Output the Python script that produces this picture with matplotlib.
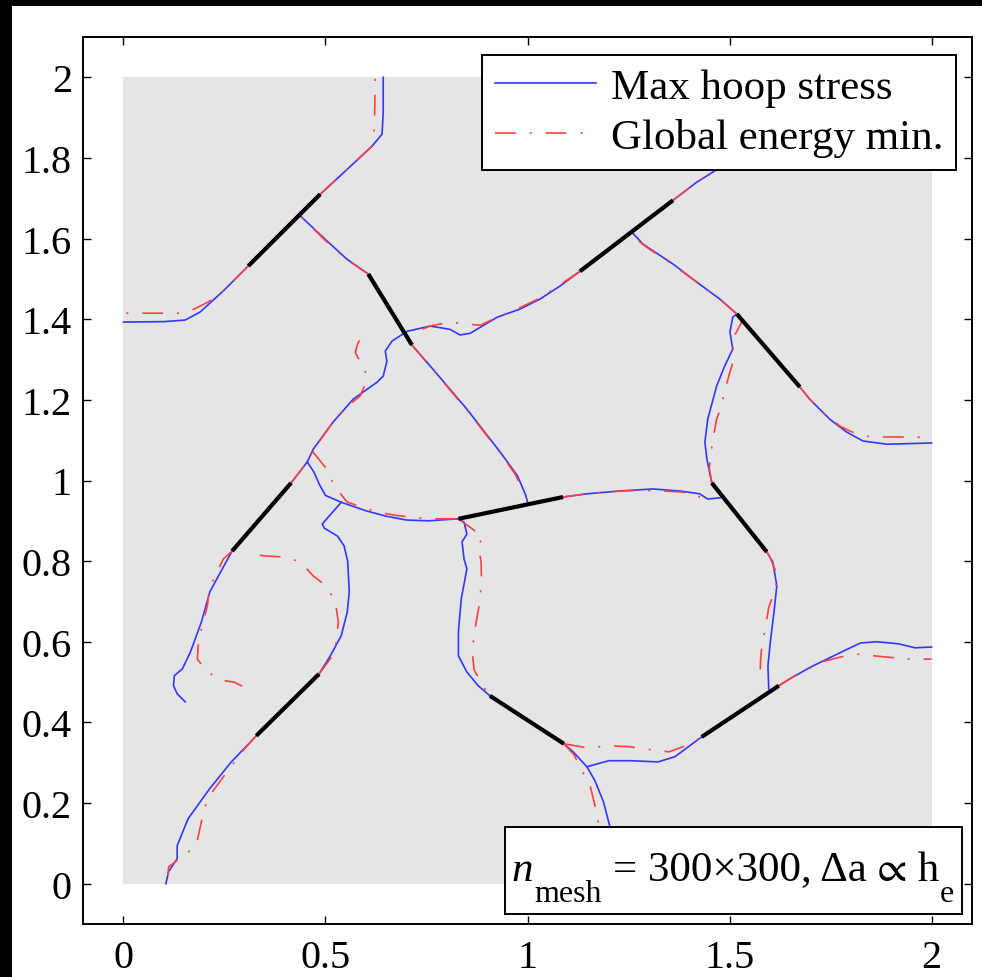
import numpy as np
import matplotlib
matplotlib.use("Agg")
import matplotlib.pyplot as plt
from matplotlib.patches import Rectangle
from matplotlib.ticker import FuncFormatter, MultipleLocator

plt.rcParams['font.family'] = 'serif'
plt.rcParams['font.serif'] = ['Liberation Serif', 'DejaVu Serif']
plt.rcParams['mathtext.fontset'] = 'stix'
plt.rcParams['lines.scale_dashes'] = False

# initial cracks (x0, y0, x1, y1)
init_x0 = [0.309, 0.606, 1.130, 1.518, 0.269, 0.829, 1.456, 0.329, 0.907, 1.431]
init_y0 = [1.532, 1.512, 1.519, 1.413, 0.825, 0.905, 0.994, 0.367, 0.466, 0.364]
init_x1 = [0.487, 0.714, 1.360, 1.674, 0.415, 1.088, 1.592, 0.484, 1.090, 1.622]
init_y1 = [1.710, 1.336, 1.695, 1.232, 0.994, 0.959, 0.823, 0.520, 0.347, 0.491]

# crack paths, max hoop stress criterion
hoop_paths = [
    [(0.309, 1.532), (0.247, 1.470), (0.19, 1.418), (0.153, 1.398), (0.10, 1.394), (0.0, 1.393)],
    [(0.487, 1.710), (0.554, 1.772), (0.615, 1.829), (0.640, 1.859), (0.643, 1.913), (0.643, 2.0)],
    [(0.606, 1.512), (0.553, 1.549), (0.504, 1.594), (0.438, 1.656)],
    [(0.714, 1.336), (0.766, 1.276), (0.850, 1.177), (0.932, 1.071), (0.975, 1.012), (0.995, 0.965), (1.001, 0.944)],
    [(1.130, 1.519), (1.080, 1.482), (1.031, 1.450), (0.981, 1.425), (0.925, 1.405), (0.858, 1.365),
     (0.833, 1.361), (0.808, 1.375), (0.759, 1.383), (0.702, 1.370), (0.665, 1.346), (0.648, 1.321),
     (0.652, 1.296), (0.643, 1.259), (0.628, 1.244), (0.569, 1.202), (0.519, 1.145), (0.470, 1.078),
     (0.455, 1.046), (0.415, 0.994)],
    [(0.455, 1.046), (0.472, 1.020), (0.485, 0.990), (0.500, 0.963), (0.539, 0.946), (0.600, 0.925),
     (0.648, 0.912), (0.700, 0.902), (0.754, 0.900), (0.829, 0.905)],
    [(0.484, 0.520), (0.512, 0.565), (0.539, 0.615), (0.554, 0.674), (0.559, 0.724), (0.555, 0.800),
     (0.546, 0.838), (0.530, 0.862), (0.497, 0.882), (0.492, 0.892), (0.539, 0.946)],
    [(0.269, 0.825), (0.235, 0.763), (0.214, 0.724), (0.193, 0.649), (0.166, 0.575), (0.146, 0.533),
     (0.126, 0.516), (0.124, 0.491), (0.133, 0.471), (0.153, 0.451)],
    [(0.329, 0.367), (0.315, 0.352), (0.267, 0.302), (0.213, 0.235), (0.160, 0.161), (0.133, 0.094),
     (0.133, 0.062), (0.112, 0.030), (0.105, 0.0)],
    [(0.829, 0.905), (0.843, 0.897), (0.850, 0.867), (0.838, 0.848), (0.843, 0.805), (0.850, 0.781),
     (0.836, 0.706), (0.829, 0.625), (0.829, 0.565), (0.850, 0.525), (0.878, 0.491), (0.907, 0.466)],
    [(1.090, 0.347), (1.113, 0.327), (1.147, 0.290), (1.167, 0.255), (1.188, 0.203), (1.204, 0.141),
     (1.220, 0.070), (1.230, 0.0)],
    [(1.147, 0.290), (1.201, 0.305), (1.256, 0.305), (1.323, 0.302), (1.365, 0.315), (1.431, 0.364)],
    [(1.622, 0.491), (1.649, 0.508), (1.702, 0.538), (1.782, 0.577), (1.824, 0.597), (1.864, 0.600),
     (1.918, 0.595), (1.959, 0.585), (2.0, 0.587)],
    [(1.592, 0.823), (1.607, 0.798), (1.617, 0.739), (1.610, 0.674), (1.601, 0.600), (1.595, 0.540),
     (1.597, 0.483)],
    [(1.456, 0.994), (1.444, 1.053), (1.439, 1.095), (1.446, 1.152), (1.468, 1.234), (1.488, 1.284),
     (1.508, 1.326), (1.501, 1.368), (1.508, 1.405), (1.518, 1.413)],
    [(1.674, 1.232), (1.698, 1.202), (1.748, 1.152), (1.790, 1.120), (1.830, 1.098), (1.889, 1.090),
     (2.0, 1.093)],
    [(1.518, 1.413), (1.476, 1.450), (1.419, 1.492), (1.360, 1.537), (1.286, 1.586), (1.258, 1.616)],
    [(1.360, 1.695), (1.419, 1.740), (1.483, 1.780), (1.560, 1.830), (1.650, 1.900)],
    [(1.088, 0.959), (1.147, 0.967), (1.229, 0.974), (1.310, 0.979), (1.377, 0.974), (1.426, 0.967),
     (1.446, 0.954), (1.476, 0.957)],
]

# crack paths, global energy minimisation
energy_paths = [
    [(0.309, 1.532), (0.247, 1.470), (0.21, 1.443), (0.175, 1.425), (0.136, 1.415), (0.0, 1.415)],
    [(0.487, 1.710), (0.554, 1.772), (0.615, 1.829), (0.620, 1.860), (0.622, 1.920), (0.623, 2.0)],
    [(0.606, 1.512), (0.550, 1.550), (0.500, 1.595), (0.438, 1.656)],
    [(0.714, 1.336), (0.770, 1.270), (0.850, 1.175), (0.935, 1.065), (0.970, 1.015), (0.990, 0.970)],
    [(1.130, 1.519), (1.080, 1.485), (1.030, 1.452), (0.980, 1.428), (0.925, 1.405), (0.883, 1.385),
     (0.850, 1.388), (0.808, 1.393), (0.759, 1.383), (0.722, 1.368)],
    [(0.415, 0.994), (0.455, 1.046), (0.471, 1.078), (0.519, 1.145), (0.553, 1.182), (0.586, 1.210),
     (0.600, 1.242), (0.598, 1.284), (0.580, 1.305), (0.574, 1.318), (0.580, 1.340), (0.591, 1.358)],
    [(0.468, 1.072), (0.507, 1.024), (0.519, 0.991), (0.553, 0.947), (0.590, 0.934), (0.628, 0.922),
     (0.677, 0.913), (0.754, 0.905), (0.829, 0.905)],
    [(0.484, 0.520), (0.510, 0.555), (0.524, 0.577), (0.532, 0.649), (0.524, 0.701), (0.500, 0.740),
     (0.470, 0.763), (0.438, 0.798), (0.400, 0.810), (0.349, 0.813), (0.335, 0.815)],
    [(0.269, 0.825), (0.247, 0.805), (0.220, 0.748), (0.210, 0.710), (0.208, 0.689), (0.193, 0.632),
     (0.185, 0.590), (0.183, 0.557), (0.208, 0.525), (0.240, 0.505), (0.274, 0.500), (0.294, 0.490)],
    [(0.329, 0.367), (0.300, 0.335), (0.262, 0.285), (0.235, 0.248), (0.213, 0.218), (0.200, 0.186),
     (0.190, 0.140), (0.180, 0.094), (0.146, 0.067), (0.112, 0.042), (0.110, 0.020)],
    [(0.829, 0.905), (0.870, 0.875), (0.890, 0.860), (0.878, 0.838), (0.885, 0.800), (0.886, 0.763),
     (0.883, 0.706), (0.875, 0.660), (0.870, 0.632), (0.863, 0.577), (0.868, 0.530), (0.890, 0.490),
     (0.907, 0.466)],
    [(1.090, 0.347), (1.115, 0.320), (1.135, 0.280), (1.155, 0.243), (1.167, 0.193), (1.174, 0.161),
     (1.180, 0.080), (1.190, 0.0)],
    [(1.090, 0.347), (1.147, 0.337), (1.201, 0.342), (1.250, 0.340), (1.300, 0.333), (1.350, 0.327),
     (1.400, 0.345), (1.431, 0.364)],
    [(1.622, 0.491), (1.660, 0.515), (1.700, 0.535), (1.728, 0.550), (1.778, 0.563), (1.824, 0.570),
     (1.858, 0.565), (1.911, 0.560), (1.950, 0.557), (2.0, 0.557)],
    [(1.592, 0.823), (1.600, 0.810), (1.620, 0.760), (1.610, 0.720), (1.597, 0.686), (1.587, 0.625),
     (1.580, 0.590), (1.577, 0.558), (1.575, 0.508)],
    [(1.456, 0.994), (1.450, 1.030), (1.455, 1.075), (1.459, 1.103), (1.468, 1.152), (1.480, 1.185),
     (1.490, 1.230), (1.510, 1.300), (1.508, 1.351), (1.530, 1.393), (1.535, 1.400)],
    [(1.674, 1.232), (1.700, 1.200), (1.740, 1.160), (1.773, 1.135), (1.797, 1.123), (1.830, 1.110),
     (1.871, 1.108), (1.921, 1.108), (2.0, 1.107)],
    [(1.518, 1.413), (1.476, 1.450), (1.419, 1.492), (1.360, 1.535), (1.300, 1.575), (1.270, 1.598),
     (1.258, 1.616)],
    [(1.360, 1.695), (1.419, 1.740), (1.483, 1.780), (1.560, 1.830), (1.650, 1.900)],
    [(1.088, 0.959), (1.147, 0.967), (1.200, 0.972), (1.260, 0.975), (1.310, 0.975), (1.377, 0.972),
     (1.400, 0.968), (1.432, 0.957)],
]

W, H = 982, 978
fig = plt.figure(figsize=(W / 100, H / 100), dpi=100)
ax = fig.add_axes([83 / W, 53 / H, 889 / W, 887 / H])

# domain
ax.add_patch(Rectangle((0, 0), 2, 2, facecolor='#e5e5e5', edgecolor='none', zorder=0))

for i, p in enumerate(hoop_paths):
    p = np.array(p)
    ax.plot(p[:, 0], p[:, 1], color='#3535ff', lw=1.2, zorder=2,
            label='Max hoop stress' if i == 0 else None)
for i, p in enumerate(energy_paths):
    p = np.array(p)
    ax.plot(p[:, 0], p[:, 1], color='#ff4040', lw=1.2, zorder=3,
            linestyle=(0, (15, 10, 1.5, 10)),
            label='Global energy min.' if i == 0 else None)
for x0, y0, x1, y1 in zip(init_x0, init_y0, init_x1, init_y1):
    ax.plot([x0, x1], [y0, y1], color='k', lw=3, solid_capstyle='butt', zorder=4)

ax.set_xlim(-0.1, 2.1)
ax.set_ylim(-0.1, 2.1)
ax.xaxis.set_major_locator(MultipleLocator(0.5))
ax.yaxis.set_major_locator(MultipleLocator(0.2))
fmt = FuncFormatter(lambda v, pos: '%g' % round(v, 2))
ax.xaxis.set_major_formatter(fmt)
ax.yaxis.set_major_formatter(fmt)
ax.tick_params(direction='in', top=True, right=True, length=5.5, width=1.0, labelsize=29)
ax.tick_params(axis='x', pad=11)
ax.tick_params(axis='y', pad=8)
for s in ax.spines.values():
    s.set_linewidth(1.4)

leg = ax.legend(loc='upper right', bbox_to_anchor=(956 / W, 1 - 56 / H),
                bbox_transform=fig.transFigure, borderaxespad=0, fontsize=31,
                fancybox=False, framealpha=1, edgecolor='k', handlelength=2.35,
                handletextpad=0.33, labelspacing=0.25, borderpad=0.3)
leg.get_frame().set_linewidth(1.4)
leg.set_zorder(10)

# mesh info box
bx0, by0 = (505 - 83) / 889, (925 - 915) / 887
bw, bh = 457 / 889, 87 / 887
ax.add_patch(Rectangle((bx0, by0), bw, bh, transform=ax.transAxes, facecolor='white',
                       edgecolor='k', lw=1.4, zorder=10, clip_on=False))
fam = ['Liberation Serif', 'STIXGeneral', 'DejaVu Serif']
ft = fig.transFigure
fig.text(511 / W, 1 - 881 / H, 'n', fontsize=31, style='italic', family=fam,
         va='baseline', zorder=11)
fig.text(534 / W, 1 - 902 / H, 'mesh', fontsize=23, family=fam, va='baseline', zorder=11)
fig.text(613 / W, 1 - 881 / H, '= 300\u00d7300, \u0394a \u221d h', fontsize=31,
         family=fam, va='baseline', zorder=11)
fig.text(940 / W, 1 - 902 / H, 'e', fontsize=23, family=fam, va='baseline', zorder=11)

# dark borders along the left and top edges
fig.patches.append(Rectangle((0, 0), 12 / W, 1, transform=ft,
                             facecolor='k', edgecolor='none', zorder=20))
fig.patches.append(Rectangle((0, 1 - 7 / H), 1, 7 / H, transform=ft,
                             facecolor='k', edgecolor='none', zorder=20))

fig.savefig('out.png', dpi=100, facecolor='white')
